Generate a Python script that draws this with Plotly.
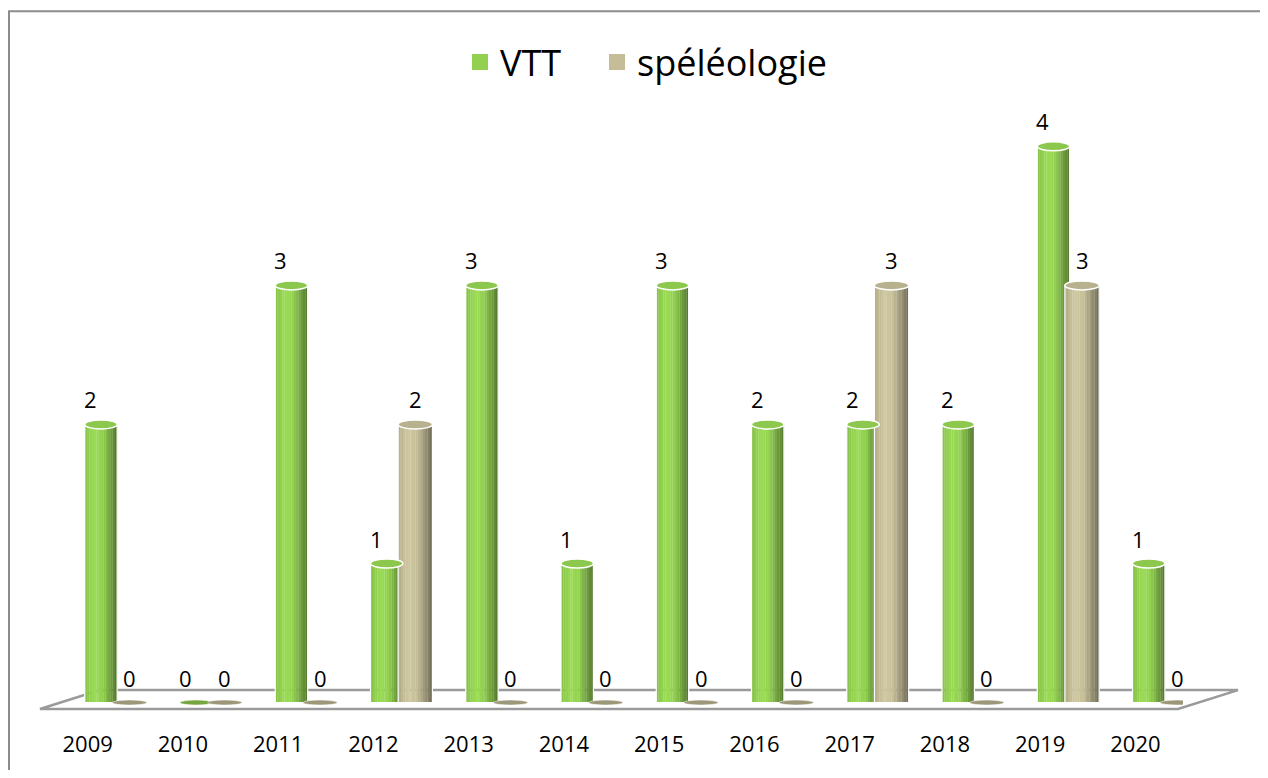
import plotly.graph_objects as go

# données
annees = [2009, 2010, 2011, 2012, 2013, 2014, 2015, 2016, 2017, 2018, 2019, 2020]
vtt = [2, 0, 3, 1, 3, 1, 3, 2, 2, 2, 4, 1]
speleo = [0, 0, 0, 2, 0, 0, 0, 0, 3, 0, 3, 0]
noms = ["VTT", "spéléologie"]

# la page html ajoute 8px de marge autour de la figure
OFF = 8
W, H = 1268 - 2 * OFF, 778 - 2 * OFF
ML, MR, MT, MB = 32, 77, 92, 50
PW, PH = W - ML - MR, H - MT - MB
FONT = "Open Sans, Lato, sans-serif"


def px_x(px):
    # pixel écran -> coordonnée paper
    return (px - OFF - ML) / PW


def px_y(py):
    return (H - MB - (py - OFF)) / PH


def shade(rgb, f):
    return "rgb(%d,%d,%d)" % tuple(max(0, min(255, round(c * f))) for c in rgb)


def factor(t):
    # profil d'éclairage du cylindre (gauche -> droite)
    stops = [(0.0, 0.92), (0.3, 1.06), (0.55, 1.0), (0.8, 0.76), (1.0, 0.56)]
    for (t0, f0), (t1, f1) in zip(stops, stops[1:]):
        if t <= t1:
            return f0 + (f1 - f0) * (t - t0) / (t1 - t0)
    return stops[-1][1]


SERIES = [
    dict(name=noms[0], y=vtt, rgb=(146, 208, 80), top="#8cc84e", off=-0.03, w=0.34,
         lab=0.03, legend="legend", lx=460),
    dict(name=noms[1], y=speleo, rgb=(196, 189, 151), top="#b8b18e", off=0.26, w=0.36,
         lab=0.44, legend="legend2", lx=597),
]
N = 14
PX_PER_UNIT = 139.5
ELL = 9 / PX_PER_UNIT
ELL0 = 5 / PX_PER_UNIT

fig = go.Figure()
shapes = [
    # cadre du graphique (seuls les bords gauche et haut sont visibles)
    dict(type="path", xref="paper", yref="paper", layer="below",
         path="M %f,%f L %f,%f L %f,%f" % (
             px_x(9), px_y(790), px_x(9), px_y(11), px_x(1290), px_y(11)),
         line=dict(color="#8c8c8c", width=2), fillcolor="rgba(0,0,0,0)"),
    # plancher 3D
    dict(type="path", xref="paper", yref="paper", layer="below",
         path="M %f,%f L %f,%f L %f,%f L %f,%f Z" % (
             px_x(40), px_y(711), px_x(1178), px_y(711),
             px_x(1238), px_y(692), px_x(100), px_y(692)),
         line=dict(color="#9a9a9a", width=2.5), fillcolor="white"),
]
annotations = []
legends = {}

for s in SERIES:
    for i in range(N):
        fig.add_trace(go.Bar(
            x=annees, y=s["y"], offset=s["off"] + i * s["w"] / N, width=s["w"] / N + 0.002,
            marker=dict(color=shade(s["rgb"], factor((i + 0.5) / N)), line=dict(width=0)),
            showlegend=False, hoverinfo="skip",
        ))
    fig.add_trace(go.Bar(
        x=annees, y=s["y"], offset=s["off"], width=s["w"], name=s["name"],
        marker=dict(color="rgba(0,0,0,0)", line=dict(color="white", width=1.2)),
        showlegend=False, hovertemplate="%{x}: %{y}<extra>" + s["name"] + "</extra>",
    ))
    # entrée de légende
    fig.add_trace(go.Scatter(x=[None], y=[None], name=s["name"], mode="markers",
                             legend=s["legend"],
                             marker=dict(symbol="square", size=20, color=shade(s["rgb"], 1.0))))
    legends[s["legend"]] = dict(
        orientation="h", x=px_x(s["lx"]), xanchor="left", y=px_y(62), yanchor="middle",
        font=dict(size=36, color="black"), itemsizing="trace", bgcolor="rgba(0,0,0,0)",
    )
    for a, v in zip(annees, s["y"]):
        e = ELL if v else ELL0
        shapes.append(dict(
            type="circle", xref="x", yref="y",
            x0=a + s["off"], x1=a + s["off"] + s["w"], y0=v - e / 2, y1=v + e / 2,
            fillcolor=s["top"] if v else shade(s["rgb"], 0.8),
            line=dict(color="white", width=1.5 if v else 0.5),
        ))
        annotations.append(dict(
            x=a + s["lab"], y=v, xref="x", yref="y", text=str(v), showarrow=False,
            yshift=25, font=dict(size=22, color="black", family=FONT),
        ))

fig.update_layout(
    width=W, height=H,
    margin=dict(l=ML, r=MR, t=MT, b=MB),
    paper_bgcolor="white", plot_bgcolor="white",
    barmode="overlay",
    font=dict(family=FONT, color="black"),
    xaxis=dict(range=[2008.5, 2020.5], tickmode="array", tickvals=annees,
               ticktext=[str(a) for a in annees], showgrid=False, zeroline=False,
               showline=False, ticks="", ticklabelstandoff=11,
               tickfont=dict(size=22, color="black")),
    yaxis=dict(range=[-(720 - 704.5) / PX_PER_UNIT, (704.5 - 100) / PX_PER_UNIT],
               visible=False, showgrid=False, zeroline=False),
    shapes=shapes,
    annotations=annotations,
    **legends,
)

fig.write_html("out.html")
